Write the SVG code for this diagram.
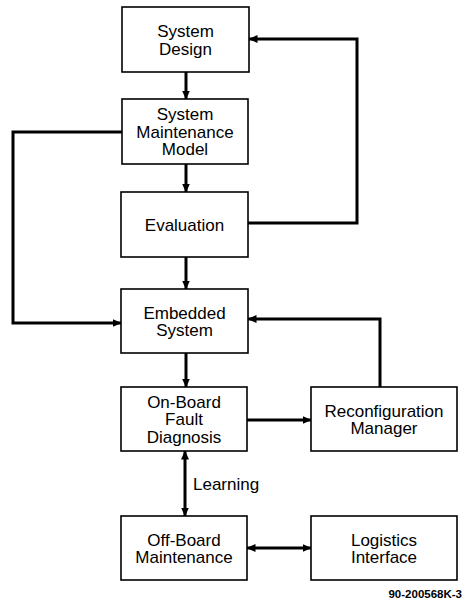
<svg xmlns="http://www.w3.org/2000/svg" width="465" height="606" viewBox="0 0 465 606">
<style>
.box{fill:#fff;stroke:#000;stroke-width:1.6}
.t{font-family:"Liberation Sans",Arial,sans-serif;font-size:17px;fill:#000;text-anchor:middle}
.c{fill:none;stroke:#000;stroke-width:3}
</style>
<defs>
<marker id="ah" markerWidth="9" markerHeight="8" refX="8.5" refY="4" orient="auto-start-reverse" markerUnits="userSpaceOnUse">
<path d="M0,0 L9,4 L0,8 Z" fill="#000"/>
</marker>
</defs>
<rect width="465" height="606" fill="#fff"/>
<g id="connectors">
<path class="c" d="M186,72 V99" marker-end="url(#ah)"/>
<path class="c" d="M186,164 V192" marker-end="url(#ah)"/>
<path class="c" d="M186,257 V289" marker-end="url(#ah)"/>
<path class="c" d="M186,353 V387" marker-end="url(#ah)"/>
<path class="c" d="M248,223 H357 V39 H249" marker-end="url(#ah)"/>
<path class="c" d="M122,132 H13 V323 H121" marker-end="url(#ah)"/>
<path class="c" d="M247,420 H311" marker-end="url(#ah)"/>
<path class="c" d="M380,387 V319 H248" marker-end="url(#ah)"/>
<path class="c" d="M185,451 V516" marker-start="url(#ah)" marker-end="url(#ah)"/>
<path class="c" d="M247,548 H311" marker-start="url(#ah)" marker-end="url(#ah)"/>
<text class="t" x="193" y="490" style="text-anchor:start">Learning</text>
</g>
<g id="system-design">
<rect class="box" x="122" y="7" width="127" height="65"/>
<text class="t" x="185.5" y="37">System</text>
<text class="t" x="185.5" y="54.5">Design</text>
</g>
<g id="system-maintenance-model">
<rect class="box" x="122" y="99" width="126" height="65"/>
<text class="t" x="185" y="120.3">System</text>
<text class="t" x="185" y="137.8">Maintenance</text>
<text class="t" x="185" y="155.3">Model</text>
</g>
<g id="evaluation">
<rect class="box" x="121" y="192" width="127" height="65"/>
<text class="t" x="184.5" y="230.5">Evaluation</text>
</g>
<g id="embedded-system">
<rect class="box" x="121" y="289" width="127" height="64"/>
<text class="t" x="184.5" y="318.5">Embedded</text>
<text class="t" x="184.5" y="336">System</text>
</g>
<g id="on-board-fault-diagnosis">
<rect class="box" x="121" y="387" width="126" height="64"/>
<text class="t" x="184" y="407.8">On-Board</text>
<text class="t" x="184" y="425.3">Fault</text>
<text class="t" x="184" y="442.8">Diagnosis</text>
</g>
<g id="reconfiguration-manager">
<rect class="box" x="311" y="387" width="146" height="64"/>
<text class="t" x="384" y="416.5">Reconfiguration</text>
<text class="t" x="384" y="434">Manager</text>
</g>
<g id="off-board-maintenance">
<rect class="box" x="121" y="516" width="126" height="64"/>
<text class="t" x="184" y="545.5">Off-Board</text>
<text class="t" x="184" y="563">Maintenance</text>
</g>
<g id="logistics-interface">
<rect class="box" x="311" y="516" width="146" height="64"/>
<text class="t" x="384" y="545.5">Logistics</text>
<text class="t" x="384" y="563">Interface</text>
</g>
<text x="462" y="598" style="font-family:'Liberation Sans',Arial,sans-serif;font-size:11.5px;font-weight:bold;text-anchor:end">90-200568K-3</text>
</svg>
